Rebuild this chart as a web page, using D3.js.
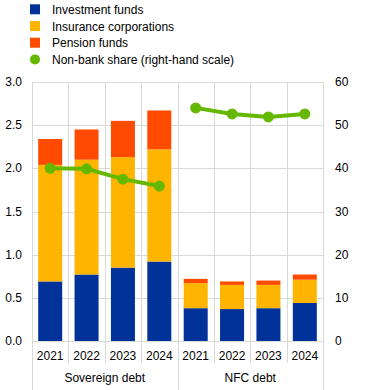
<!DOCTYPE html>
<html>
<head>
<meta charset="utf-8">
<script src="https://cdn.jsdelivr.net/npm/d3@7"></script>
<style>
body { margin: 0; background: #fff; }
text { font-family: "Liberation Sans", Arial, sans-serif; font-size: 12px; fill: #000; }
.grid line { stroke: #d9d9d9; stroke-width: 1px; }
</style>
</head>
<body>
<div id="chart"></div>
<script>
var groups = ["Sovereign debt", "NFC debt"];
var years = ["2021", "2022", "2023", "2024"];
var investment = [0.69, 0.77, 0.85, 0.92, 0.38, 0.37, 0.38, 0.44];
var insurance = [1.35, 1.33, 1.28, 1.30, 0.29, 0.28, 0.27, 0.27];
var pension = [0.30, 0.35, 0.42, 0.45, 0.05, 0.04, 0.05, 0.06];
var share = [40.0, 39.9, 37.5, 35.9, 54.0, 52.6, 51.9, 52.6];
var leftTicks = [0, 0.5, 1, 1.5, 2, 2.5, 3];
var rightTicks = [0, 10, 20, 30, 40, 50, 60];

var width = 372, height = 390;
var margin = {left: 32, right: 49, top: 82, bottom: 49};
var colors = {inv: "#003299", ins: "#ffb400", pen: "#ff4b00", share: "#65b800"};

var svg = d3.select("#chart").append("svg")
  .attr("width", width)
  .attr("height", height);

var cats = [];
groups.forEach(function(g, gi) {
  years.forEach(function(y) { cats.push(gi + "-" + y); });
});

var x = d3.scaleBand()
  .domain(cats)
  .range([margin.left, width - margin.right])
  .paddingInner(0.34)
  .paddingOuter(0.17);
var step = x.step();

var y = d3.scaleLinear().domain([0, 3]).range([height - margin.bottom, margin.top]);
var y2 = d3.scaleLinear().domain([0, 60]).range([height - margin.bottom, margin.top]);

// horizontal grid
var grid = svg.append("g").attr("class", "grid");
grid.selectAll(".h").data(leftTicks).enter().append("line")
  .attr("x1", margin.left).attr("x2", width - margin.right)
  .attr("y1", function(d) { return Math.round(y(d)) + 0.5; })
  .attr("y2", function(d) { return Math.round(y(d)) + 0.5; });

// vertical separators
var seps = d3.range(cats.length + 1);
grid.selectAll(".v").data(seps).enter().append("line")
  .attr("x1", function(i) { return Math.round(margin.left + i * step) + 0.5; })
  .attr("x2", function(i) { return Math.round(margin.left + i * step) + 0.5; })
  .attr("y1", margin.top)
  .attr("y2", function(i) { return i % 4 === 0 ? height : height - margin.bottom + 22; });

// stacked bars
var rows = cats.map(function(c, i) {
  return {cat: c, inv: investment[i], ins: insurance[i], pen: pension[i]};
});
var stack = d3.stack().keys(["inv", "ins", "pen"])(rows);
svg.append("g").selectAll("g").data(stack).enter().append("g")
  .attr("fill", function(d) { return colors[d.key]; })
  .selectAll("rect").data(function(d) { return d; }).enter().append("rect")
  .attr("x", function(d) { return x(d.data.cat); })
  .attr("width", x.bandwidth())
  .attr("y", function(d) { return y(d[1]); })
  .attr("height", function(d) { return y(d[0]) - y(d[1]); });

// non-bank share lines, one per group
var line = d3.line()
  .x(function(d) { return x(d.cat) + x.bandwidth() / 2; })
  .y(function(d) { return y2(d.v); });
groups.forEach(function(g, gi) {
  var pts = years.map(function(yr, j) {
    return {cat: gi + "-" + yr, v: share[gi * 4 + j]};
  });
  svg.append("path").datum(pts)
    .attr("fill", "none")
    .attr("stroke", colors.share)
    .attr("stroke-width", 4)
    .attr("d", line);
  svg.selectAll(null).data(pts).enter().append("circle")
    .attr("cx", function(d) { return x(d.cat) + x.bandwidth() / 2; })
    .attr("cy", function(d) { return y2(d.v); })
    .attr("r", 5.5)
    .attr("fill", colors.share);
});

// axes labels
svg.append("g").selectAll("text").data(leftTicks).enter().append("text")
  .attr("x", 22).attr("y", function(d) { return y(d) + 4; })
  .attr("text-anchor", "end")
  .text(function(d) { return d.toFixed(1); });
svg.append("g").selectAll("text").data(rightTicks).enter().append("text")
  .attr("x", 335).attr("y", function(d) { return y2(d) + 4; })
  .text(function(d) { return d; });

svg.append("g").selectAll("text").data(cats).enter().append("text")
  .attr("x", function(d) { return x(d) + x.bandwidth() / 2; })
  .attr("y", 360)
  .attr("text-anchor", "middle")
  .text(function(d) { return d.split("-")[1]; });

svg.append("g").selectAll("text").data(groups).enter().append("text")
  .attr("x", function(d, i) { return margin.left + step * (i * 4 + 2); })
  .attr("y", 382)
  .attr("text-anchor", "middle")
  .text(function(d) { return d; });

// legend
var legend = [
  {label: "Investment funds", color: colors.inv, type: "rect"},
  {label: "Insurance corporations", color: colors.ins, type: "rect"},
  {label: "Pension funds", color: colors.pen, type: "rect"},
  {label: "Non-bank share (right-hand scale)", color: colors.share, type: "circle"}
];
var lg = svg.append("g").selectAll("g").data(legend).enter().append("g")
  .attr("transform", function(d, i) { return "translate(0," + (9.3 + i * 16.7) + ")"; });
lg.filter(function(d) { return d.type === "rect"; }).append("rect")
  .attr("x", 30).attr("y", -5).attr("width", 10).attr("height", 10)
  .attr("fill", function(d) { return d.color; });
lg.filter(function(d) { return d.type === "circle"; }).append("circle")
  .attr("cx", 35).attr("cy", 0).attr("r", 5)
  .attr("fill", function(d) { return d.color; });
lg.append("text").attr("x", 52).attr("y", 4.5).text(function(d) { return d.label; });
</script>
</body>
</html>
